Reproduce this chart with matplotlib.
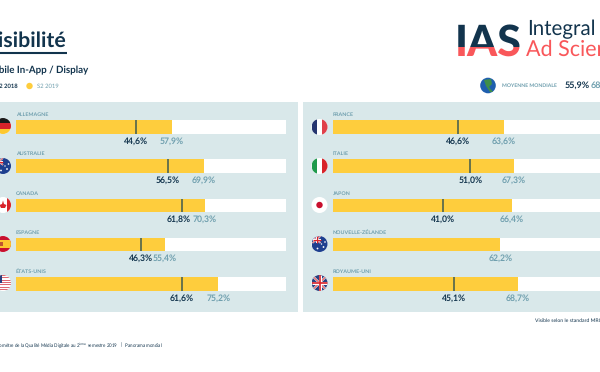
import matplotlib
matplotlib.use("Agg")
import matplotlib.pyplot as plt
from matplotlib.patches import Circle, Rectangle, Polygon

plt.rcParams['font.family'] = ['Lato', 'DejaVu Sans']
plt.rcParams['text.hinting'] = 'no_hinting'

# data
left_countries = ['ALLEMAGNE', 'AUSTRALIE', 'CANADA', 'ESPAGNE', 'ÉTATS-UNIS']
left_s2_2018 = [44.6, 56.5, 61.8, 46.3, 61.6]
left_s2_2019 = [57.9, 69.9, 70.3, 55.4, 75.2]

right_countries = ['FRANCE', 'ITALIE', 'JAPON', 'NOUVELLE-ZÉLANDE', 'ROYAUME-UNI']
right_s2_2018 = [46.6, 51.0, 41.0, None, 45.1]
right_s2_2019 = [63.6, 67.3, 66.4, 62.2, 68.7]

world_2018 = '55,9%'
world_2019 = '68,'

DARK = '#12344d'
TEAL = '#6f9fae'
YELLOW = '#fecd3d'
PANEL = '#d9e8ea'
CORAL = '#f9575a'
NAVY = '#1d3f8f'
RED = '#d8232a'

W, H = 600, 372


def pct(v):
    return f'{v:.1f}%'.replace('.', ',')


fig = plt.figure(figsize=(W / 100, H / 100), dpi=100)

# overlay in pixel coords for the page furniture
page = fig.add_axes([0, 0, 1, 1])
page.set(xlim=(0, W), ylim=(H, 0))
page.axis('off')


def panel(px0, px1, bar_x0, countries, v18, v19, right_edge):
    ax = fig.add_axes([px0 / W, 1 - 311.5 / H, (px1 - px0) / W, (311.5 - 102) / H])
    ax.set_facecolor(PANEL)
    for s in ax.spines.values():
        s.set_visible(False)
    ax.set_xticks([])
    ax.set_yticks([])
    scale = 2.69
    ax.set_xlim((px0 - bar_x0) / scale, (px1 - bar_x0) / scale)
    # one category step = 39.2 px, first bar centre at y=127
    ax.set_ylim((311.5 - 127) / 39.2, (102 - 127) / 39.2)
    for i, name in enumerate(countries):
        ax.barh(i, (right_edge - bar_x0) / scale, height=0.35, color='white')
        ax.barh(i, v19[i], height=0.35, color=YELLOW)
        ax.text(0, i - 0.313, name, fontsize=3.9, color=TEAL, weight='bold',
                va='center', ha='left')
        # the two labels sit too close on this row, so the dark one moves left
        nudge = -1.2 if name == 'CANADA' else 0
        if v18[i] is not None:
            ax.plot([v18[i], v18[i]], [i - 0.175, i + 0.175], color='#3f5a50', lw=1.1,
                    solid_capstyle='butt')
            ax.text(v18[i] + nudge, i + 0.356, pct(v18[i]), fontsize=6.2, color=DARK,
                    weight='bold', ha='center', va='center')
        ax.text(v19[i], i + 0.356, pct(v19[i]), fontsize=6.2, color=TEAL, weight='bold',
                ha='center', va='center')
    return ax


panel(0, 298, 16, left_countries, left_s2_2018, left_s2_2019, 286)
panel(303, 600, 333, right_countries, right_s2_2018, right_s2_2019, 603)

# flags on top of the panels
flags = fig.add_axes([0, 0, 1, 1])
flags.set(xlim=(0, W), ylim=(H, 0))
flags.axis('off')
flags.patch.set_alpha(0)


def flag(cx, cy, parts, base='white'):
    clip = Circle((cx, cy), 8, transform=flags.transData)
    flags.add_patch(Circle((cx, cy), 8, color=base, lw=0))
    for p in parts:
        flags.add_patch(p)
        p.set_clip_path(clip)


def rect(x, y, w, h, col):
    return Rectangle((x, y), w, h, color=col, lw=0)


def stroke(x0, y0, x1, y1, col, lw):
    return Polygon([(x0, y0), (x1, y1)], closed=False, fill=False, ec=col, lw=lw)


def union(x, y, w, h, lw=0.7):
    # small union jack, used for the UK and in the corner of AU / NZ
    mx, my = x + w / 2, y + h / 2
    return [stroke(x, y, x + w, y + h, 'white', lw * 1.6), stroke(x, y + h, x + w, y, 'white', lw * 1.6),
            stroke(x, y, x + w, y + h, RED, lw * 0.6), stroke(x, y + h, x + w, y, RED, lw * 0.6),
            stroke(x, my, x + w, my, 'white', lw * 2.2), stroke(mx, y, mx, y + h, 'white', lw * 2.2),
            stroke(x, my, x + w, my, RED, lw * 1.2), stroke(mx, y, mx, y + h, RED, lw * 1.2)]


def stars(cx, cy):
    return [Circle((cx + 4, cy + 3), 0.9, color='white', lw=0), Circle((cx + 5.5, cy - 2), 0.8, color='white', lw=0),
            Circle((cx + 2, cy + 0), 0.7, color='white', lw=0), Circle((cx - 2, cy + 4.5), 0.9, color='white', lw=0)]


# left column, cut by the image edge
cx = 3.0
flag(cx, 126, [rect(cx - 8, 118, 16, 5.3, '#1a1a1a'), rect(cx - 8, 123.3, 16, 5.3, RED),
               rect(cx - 8, 128.6, 16, 5.4, '#fdc82f')])
flag(cx, 166, [rect(cx - 8, 158, 16, 16, NAVY)] + union(cx - 8, 158, 8, 7) + stars(cx, 166))
flag(cx, 205, [rect(cx + 4, 197, 4, 16, RED),
               Polygon([(cx - 3.5, 205), (cx - 1, 204), (cx, 200.5), (cx + 1, 204), (cx + 3.5, 205),
                        (cx + 2, 208), (cx - 2, 208)], color=RED, lw=0)])
flag(cx, 244, [rect(cx - 8, 236, 16, 16, '#c8102e'), rect(cx - 8, 240, 16, 8, '#fdc82f'),
               rect(cx - 3, 242, 3, 4, '#c0562f')])
usa = [rect(cx - 8, 275 + 2.3 * k, 16, 1.15, '#de6a72') for k in range(8)]
flag(cx, 283, usa + [rect(cx - 8, 275, 6.5, 8, '#27407f')])

cx = 319.5
flag(cx, 127, [rect(cx - 8, 119, 5.3, 16, '#25356f'), rect(cx + 2.7, 119, 5.3, 16, '#e0404a')])
flag(cx, 166, [rect(cx - 8, 158, 5.3, 16, '#1f9a4c'), rect(cx + 2.7, 158, 5.3, 16, RED)])
flag(cx, 205, [Circle((cx, 205), 3.2, color='#c8102e', lw=0)])
flag(cx, 244, [rect(cx - 8, 236, 16, 16, NAVY)] + union(cx - 7, 236, 8, 7) + stars(cx, 244))
flag(cx, 283, [rect(cx - 8, 275, 16, 16, '#27407f')] + union(cx - 8, 275, 16, 16, lw=1.0))

# title block, cut by the left edge as in the source
page.text(-16.5, 47, 'Visibilité', fontsize=15.4, weight='bold', color=DARK, va='baseline', ha='left')
page.plot([0, 67], [53.3, 53.3], color=DARK, lw=1.5, solid_capstyle='butt')
page.text(-15.5, 70, 'Mobile In-App / Display', fontsize=7, weight='bold', color=DARK, va='center')
page.text(-4, 86, 'S2 2018', fontsize=4.2, weight='bold', color=DARK, va='center')
page.add_patch(Circle((29.5, 86), 3.2, color=YELLOW, lw=0))
page.text(37, 86, 'S2 2019', fontsize=4.2, color=TEAL, va='center')

# logo, same word twice with a different clip for the two colours
for col, y0, y1 in [(DARK, 15, 47), (CORAL, 47, 60)]:
    t = page.text(455, 56, 'IAS', fontsize=31, weight='black', color=col, va='baseline', clip_on=True)
    t.set_clip_path(Rectangle((450, y0), 80, y1 - y0, transform=page.transData))
page.text(527, 29, 'Integral', fontsize=14.8, color=DARK, va='center')
page.text(526, 50, 'Ad Science', fontsize=15.5, color=CORAL, va='center', clip_on=True)

# world average
page.add_patch(Circle((488, 85.5), 7.8, color='#1f5fae', lw=0))
page.add_patch(Polygon([(484, 80), (491, 79), (492, 84), (489, 87), (493, 92), (490, 92), (486, 86)],
                       color='#3f8f4a', lw=0))
page.text(501.5, 85.5, 'MOYENNE MONDIALE', fontsize=3.7, weight='bold', color=TEAL, va='center')
page.text(565, 85.5, world_2018, fontsize=6.5, weight='bold', color=DARK, va='center')
page.text(591, 85.5, world_2019, fontsize=6.5, weight='bold', color=TEAL, va='center')

# notes
page.text(535, 320.5, 'Visible selon le standard MRC', fontsize=3.7, color=DARK, va='center')
page.text(-8, 345, 'Baromètre de la Qualité Média Digitale au 2$^{\\mathrm{ème}}$ semestre 2019   |   Panorama mondial',
          fontsize=3.25, color=DARK, va='center')

fig.savefig('out.png', dpi=100)
